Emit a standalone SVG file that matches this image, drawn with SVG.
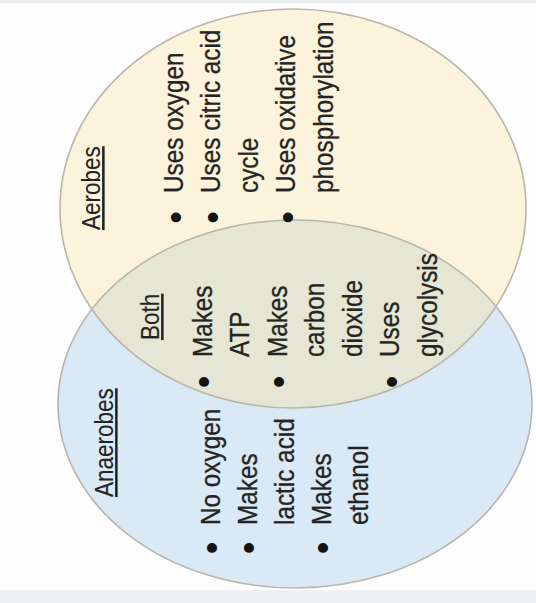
<svg xmlns="http://www.w3.org/2000/svg" width="536" height="603" viewBox="0 0 536 603">
  <defs>
    <clipPath id="clipBlue">
      <ellipse cx="295" cy="404" rx="237" ry="184"/>
    </clipPath>
    <style>
      .t { font-family: "Liberation Sans", Arial, sans-serif; font-size: 27px; fill: #242424; stroke: #242424; stroke-width: 0.3; }
      .h { font-size: 25px; stroke-width: 0.1; text-decoration: underline; }
      .b { font-family: "Liberation Sans", Arial, sans-serif; font-size: 36px; fill: #141414; text-anchor: middle; }
      .edge { fill: none; stroke: #bab5aa; stroke-width: 1.6; }
    </style>
  </defs>
  <rect x="0" y="0" width="536" height="603" fill="#fdfdfd"/>
  <rect x="0" y="0" width="536" height="3" fill="#e8ecef"/>
  <rect x="0" y="590" width="536" height="13" fill="#eff0f1"/>

  <g id="aerobes">
    <ellipse cx="293" cy="208.5" rx="233" ry="199.5" fill="#fcf3dc"/>
  </g>
  <g id="anaerobes">
    <ellipse cx="295" cy="404" rx="237" ry="184" fill="#d9e9f5"/>
  </g>
  <g id="both">
    <ellipse cx="293" cy="208.5" rx="233" ry="199.5" fill="#e6e6d4" clip-path="url(#clipBlue)"/>
  </g>
  <g id="outlines">
    <ellipse class="edge" cx="293" cy="208.5" rx="233" ry="199.5"/>
    <ellipse class="edge" cx="295" cy="404" rx="237" ry="184"/>
  </g>

  <g id="bullets" transform="rotate(-90)">
    <text class="b" x="-217.5" y="187.5">•</text>
    <text class="b" x="-217.5" y="225">•</text>
    <text class="b" x="-217.5" y="300">•</text>
    <text class="b" x="-382" y="216">•</text>
    <text class="b" x="-382" y="291">•</text>
    <text class="b" x="-382" y="403.5">•</text>
    <text class="b" x="-548" y="224">•</text>
    <text class="b" x="-548" y="261">•</text>
    <text class="b" x="-548" y="335">•</text>
  </g>

  <g id="aerobes-text" transform="rotate(-90) scale(0.9,1)">
    <text class="t h" x="-255.6" y="100">Aerobes</text>
    <text class="t" x="-214.4" y="183">Uses oxygen</text>
    <text class="t" x="-214.4" y="220.5">Uses citric acid</text>
    <text class="t" x="-214.4" y="258">cycle</text>
    <text class="t" x="-214.4" y="295.5">Uses oxidative</text>
    <text class="t" x="-214.4" y="333">phosphorylation</text>
  </g>

  <g id="both-text" transform="rotate(-90) scale(0.9,1)">
    <text class="t h" x="-377.8" y="159">Both</text>
    <text class="t" x="-396.7" y="211.6">Makes</text>
    <text class="t" x="-396.7" y="249">ATP</text>
    <text class="t" x="-396.7" y="286.6">Makes</text>
    <text class="t" x="-396.7" y="324">carbon</text>
    <text class="t" x="-396.7" y="361.6">dioxide</text>
    <text class="t" x="-396.7" y="399">Uses</text>
    <text class="t" x="-396.7" y="436.6">glycolysis</text>
  </g>

  <g id="anaerobes-text" transform="rotate(-90) scale(0.9,1)">
    <text class="t h" x="-552.2" y="113">Anaerobes</text>
    <text class="t" x="-583.3" y="219.6">No oxygen</text>
    <text class="t" x="-583.3" y="256.6">Makes</text>
    <text class="t" x="-583.3" y="294">lactic acid</text>
    <text class="t" x="-583.3" y="330.6">Makes</text>
    <text class="t" x="-583.3" y="368">ethanol</text>
  </g>
</svg>
